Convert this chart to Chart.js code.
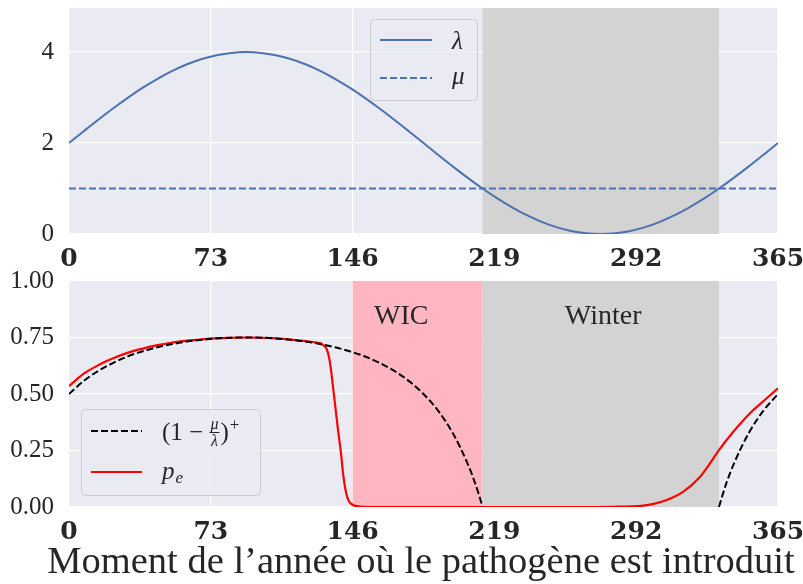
<!DOCTYPE html>
<html>
<head>
<meta charset="utf-8">
<script src="https://cdn.jsdelivr.net/npm/chart.js@4.4.1/dist/chart.umd.min.js"></script>
<style>
  body { margin: 0; background: #fff; }
  #wrap { position: relative; width: 803px; height: 584px; }
  canvas { position: absolute; left: 0; }
</style>
</head>
<body>
<div id="wrap">
  <canvas id="topChart" width="803" height="270" style="top:0;width:803px;height:270px"></canvas>
  <canvas id="bottomChart" width="803" height="314" style="top:270px;width:803px;height:314px"></canvas>
</div>
<script>
  // values
  const xTicks = [0, 73, 146, 219, 292, 365];
  const topYTicks = [0, 2, 4];
  const bottomYTicks = [0, 0.25, 0.5, 0.75, 1];

  const dayGrid = [0, 7.6, 15.2, 22.8, 30.4, 38.0, 45.6, 53.2, 60.8, 68.4, 76.0, 83.6, 91.25,
    98.9, 106.5, 114.1, 121.7, 129.3, 136.9, 144.5, 152.1, 159.7, 167.3, 174.9, 182.5,
    190.1, 197.7, 205.3, 212.9, 220.5, 228.1, 235.7, 243.3, 250.9, 258.5, 266.1, 273.75,
    281.4, 289.0, 296.6, 304.2, 311.8, 319.4, 327.0, 334.6, 342.2, 349.8, 357.4, 365];
  const lambdaValues = [2, 2.261, 2.518, 2.765, 3.0, 3.218, 3.414, 3.587, 3.732, 3.848, 3.932, 3.983, 4,
    3.983, 3.932, 3.848, 3.732, 3.587, 3.414, 3.218, 3.0, 2.765, 2.518, 2.261, 2.0,
    1.739, 1.482, 1.235, 1.0, 0.782, 0.586, 0.413, 0.268, 0.152, 0.068, 0.017, 0,
    0.017, 0.068, 0.152, 0.268, 0.413, 0.586, 0.782, 1.0, 1.235, 1.482, 1.739, 2.0];
  const muDays = [0, 365];
  const muValues = [1, 1];

  const boundDays = [0, 7.6, 15.2, 22.8, 30.4, 38.0, 45.6, 53.2, 60.8, 68.4, 76.0, 83.6, 91.25,
    98.9, 106.5, 114.1, 121.7, 129.3, 136.9, 144.5, 152.1, 159.7, 167.3, 174.9, 182.5,
    190.1, 197.7, 205.3, 209, 211, 212.9, 273.75, 334.6, 336.6, 338.6, 342.2, 349.8, 357.4, 365];
  const boundValues = [0.5, 0.558, 0.603, 0.638, 0.667, 0.689, 0.707, 0.721, 0.732, 0.740, 0.746, 0.749, 0.75,
    0.749, 0.746, 0.740, 0.732, 0.721, 0.707, 0.689, 0.667, 0.638, 0.603, 0.558, 0.5,
    0.425, 0.325, 0.190, 0.107, 0.055, 0, null, 0, 0.057, 0.110, 0.190, 0.325, 0.425, 0.5];

  const peDays = [0, 7.6, 15.2, 22.8, 30.4, 38.0, 45.6, 53.2, 60.8, 68.4, 76.0, 83.6, 91.25,
    98.9, 106.5, 114.1, 121.7, 125.6, 129.2, 130.8, 132.7, 133.8, 134.9, 135.9, 136.9,
    138.5, 140.0, 141.2, 142.6, 144.1, 146.2, 149.8, 155, 200, 260, 280, 295.5, 301,
    307.7, 316.3, 324.9, 330.0, 334.6, 342.0, 350.6, 359.2, 365];
  const peValues = [0.535, 0.59, 0.628, 0.658, 0.683, 0.701, 0.716, 0.728, 0.736, 0.742, 0.747, 0.749, 0.75,
    0.749, 0.746, 0.741, 0.734, 0.730, 0.725, 0.717, 0.698, 0.665, 0.606, 0.532, 0.46,
    0.34, 0.24, 0.14, 0.065, 0.025, 0.009, 0.002, 0, 0, 0, 0.001, 0.006, 0.014,
    0.031, 0.068, 0.134, 0.193, 0.252, 0.333, 0.415, 0.481, 0.525];

  const winterStart = 212.9, winterEnd = 334.6, wicStart = 146;
  const xTitle = 'Moment de l’année où le pathogène est introduit';

  const SERIF = "'Liberation Serif', 'Times New Roman', serif";
  const INK = '#262626';
  const BG = '#EAEAF2';
  const DASH = [7, 3];

  const pts = (xs, ys) => xs.map((x, i) => ({ x: x, y: ys[i] }));

  function bandsPlugin(bands) {
    return {
      id: 'bands',
      beforeDraw(chart) {
        const { ctx, chartArea: a } = chart;
        ctx.save();
        ctx.fillStyle = BG;
        ctx.fillRect(a.left, a.top, a.right - a.left, a.bottom - a.top);
        ctx.restore();
      },
      beforeDatasetsDraw(chart) {
        const { ctx, chartArea: a, scales: { x, y } } = chart;
        ctx.save();
        bands.forEach(b => {
          const x0 = x.getPixelForValue(b.from), x1 = x.getPixelForValue(b.to);
          ctx.fillStyle = b.color;
          ctx.fillRect(x0, a.top, x1 - x0, a.bottom - a.top);
          if (b.label) {
            ctx.fillStyle = INK;
            ctx.font = '28px ' + SERIF;
            ctx.textAlign = 'center';
            ctx.textBaseline = 'middle';
            ctx.fillText(b.label, x.getPixelForValue(b.labelX), y.getPixelForValue(b.labelY));
          }
        });
        ctx.restore();
      }
    };
  }

  function legendBox(ctx, x, y, w, h) {
    ctx.beginPath();
    ctx.roundRect(x, y, w, h, 4);
    ctx.fillStyle = 'rgba(234,234,242,0.8)';
    ctx.fill();
    ctx.strokeStyle = '#CCCCCC';
    ctx.lineWidth = 1;
    ctx.stroke();
  }

  function sampleLine(ctx, x0, x1, y, color, dash, width) {
    ctx.beginPath();
    ctx.setLineDash(dash);
    ctx.strokeStyle = color;
    ctx.lineWidth = width;
    ctx.moveTo(x0, y);
    ctx.lineTo(x1, y);
    ctx.stroke();
    ctx.setLineDash([]);
  }

  const topLegend = {
    id: 'topLegend',
    afterDatasetsDraw(chart) {
      const ctx = chart.ctx;
      ctx.save();
      legendBox(ctx, 370.5, 19.5, 107, 81);
      sampleLine(ctx, 380, 432, 40, '#4C72B0', [], 2);
      sampleLine(ctx, 380, 432, 78, '#4C72B0', DASH, 2);
      ctx.fillStyle = INK;
      ctx.font = 'italic 25px ' + SERIF;
      ctx.textAlign = 'left';
      ctx.textBaseline = 'alphabetic';
      ctx.fillText('λ', 452, 49);
      ctx.fillText('μ', 452, 84);
      ctx.restore();
    }
  };

  // coordinates are in the bottom canvas, which starts 270px down the page
  const bottomLegend = {
    id: 'bottomLegend',
    afterDatasetsDraw(chart) {
      const ctx = chart.ctx;
      ctx.save();
      legendBox(ctx, 81.5, 139.5, 179, 86);
      sampleLine(ctx, 91, 142, 161, '#000000', DASH, 2);
      sampleLine(ctx, 91, 142, 202, '#FF0000', [], 2.2);
      ctx.fillStyle = INK;
      ctx.textAlign = 'left';
      ctx.textBaseline = 'alphabetic';
      // (1 - mu/lambda)^+
      let cx = 162;
      const base = 170;
      ctx.font = '25px ' + SERIF;
      ctx.fillText('(1 − ', cx, base);
      cx += ctx.measureText('(1 − ').width;
      ctx.font = 'italic 16px ' + SERIF;
      const fw = Math.max(ctx.measureText('μ').width, ctx.measureText('λ').width) + 2;
      ctx.textAlign = 'center';
      ctx.fillText('μ', cx + fw / 2, base - 11);
      ctx.fillText('λ', cx + fw / 2, base + 6);
      ctx.fillRect(cx, base - 8, fw, 1);
      ctx.textAlign = 'left';
      cx += fw + 1;
      ctx.font = '25px ' + SERIF;
      ctx.fillText(')', cx, base);
      cx += ctx.measureText(')').width;
      ctx.font = '17px ' + SERIF;
      ctx.fillText('+', cx + 1, base - 10);
      // p_e
      ctx.font = 'italic 25px ' + SERIF;
      ctx.fillText('p', 162, 209);
      const pw = ctx.measureText('p').width;
      ctx.font = 'italic 17px ' + SERIF;
      ctx.fillText('e', 162 + pw + 1, 213);
      // x axis title, wider than the plot area
      ctx.font = '38.5px ' + SERIF;
      ctx.textAlign = 'center';
      ctx.textBaseline = 'middle';
      ctx.fillText(xTitle, 421, 293);
      ctx.restore();
    }
  };

  function xScale(height) {
    return {
      type: 'linear', min: 0, max: 365,
      afterBuildTicks: s => { s.ticks = xTicks.map(v => ({ value: v })); },
      afterFit: s => { s.height = height; s.paddingLeft = 0; s.paddingRight = 0; },
      grid: { color: '#ffffff', lineWidth: 1.3, drawTicks: false },
      border: { display: false },
      ticks: {
        font: { family: "'DejaVu Serif', serif", size: 25, weight: 'bold' },
        color: INK, padding: 10, maxRotation: 0, autoSkip: false
      }
    };
  }

  function yScale(min, max, ticks, fmt) {
    return {
      min: min, max: max,
      afterBuildTicks: s => { s.ticks = ticks.map(v => ({ value: v })); },
      afterFit: s => { s.width = 69; s.paddingTop = 0; s.paddingBottom = 0; },
      grid: { color: '#ffffff', lineWidth: 1.3, drawTicks: false },
      border: { display: false },
      ticks: {
        font: { family: SERIF, size: 25 },
        color: INK, padding: 15,
        callback: v => fmt(v)
      }
    };
  }

  const commonOpts = {
    responsive: false,
    animation: false,
    devicePixelRatio: 1,
    plugins: { legend: { display: false }, tooltip: { enabled: false } },
    elements: { point: { radius: 0 } }
  };

  new Chart(document.getElementById('topChart').getContext('2d'), {
    type: 'line',
    data: {
      datasets: [
        { label: 'λ', data: pts(dayGrid, lambdaValues), borderColor: '#4C72B0', borderWidth: 2,
          pointRadius: 0, cubicInterpolationMode: 'monotone' },
        { label: 'μ', data: pts(muDays, muValues), borderColor: '#4C72B0', borderWidth: 2,
          borderDash: DASH, pointRadius: 0 }
      ]
    },
    options: Object.assign({}, commonOpts, {
      layout: { padding: { top: 8, right: 25, left: 0, bottom: 0 } },
      scales: {
        x: xScale(36),
        y: yScale(0, 4.97, topYTicks, v => String(v))
      }
    }),
    plugins: [bandsPlugin([{ from: winterStart, to: winterEnd, color: '#D3D3D3' }]), topLegend]
  });

  new Chart(document.getElementById('bottomChart').getContext('2d'), {
    type: 'line',
    data: {
      datasets: [
        { label: '(1 − μ/λ)+', data: pts(boundDays, boundValues), borderColor: '#000000', borderWidth: 2,
          borderDash: DASH, pointRadius: 0, cubicInterpolationMode: 'monotone', spanGaps: false },
        { label: 'p_e', data: pts(peDays, peValues), borderColor: '#FF0000', borderWidth: 2.2,
          pointRadius: 0, cubicInterpolationMode: 'monotone' }
      ]
    },
    options: Object.assign({}, commonOpts, {
      layout: { padding: { top: 11, right: 25, left: 0, bottom: 0 } },
      scales: {
        x: xScale(77),
        y: yScale(0, 1, bottomYTicks, v => v.toFixed(2))
      }
    }),
    plugins: [bandsPlugin([
      { from: wicStart, to: winterStart, color: '#FFB6C1', label: 'WIC', labelX: 171, labelY: 0.842 },
      { from: winterStart, to: winterEnd, color: '#D3D3D3', label: 'Winter', labelX: 275, labelY: 0.842 }
    ]), bottomLegend]
  });
</script>
</body>
</html>
